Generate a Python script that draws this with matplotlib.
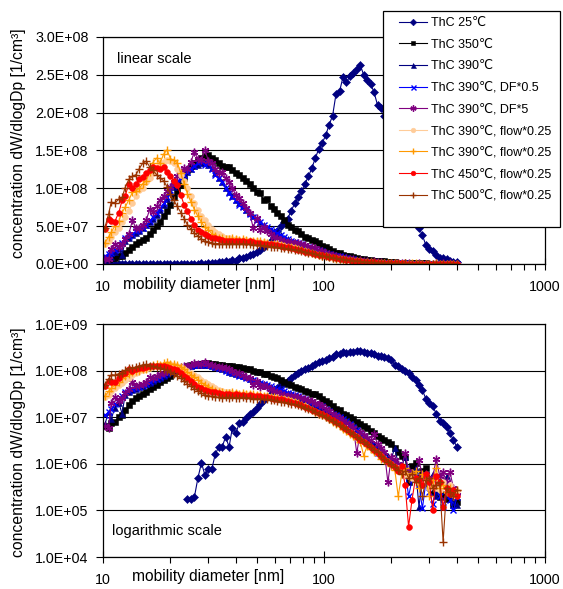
import numpy as np
import matplotlib
matplotlib.use('Agg')
import matplotlib.pyplot as plt
import matplotlib.ticker as ticker
from matplotlib.patches import Rectangle

plt.rcParams['font.family'] = ['Liberation Sans', 'DejaVu Sans']
plt.rcParams['font.size'] = 10

# SMPS bin midpoints, mobility diameter [nm]
diameter = [
    10.2, 10.6, 10.9, 11.3, 11.8, 12.2, 12.6, 13.1, 13.6, 14.1,
    14.6, 15.1, 15.7, 16.3, 16.8, 17.5, 18.1, 18.8, 19.5, 20.2,
    20.9, 21.7, 22.5, 23.3, 24.1, 25.0, 25.9, 26.9, 27.9, 28.9,
    30.0, 31.1, 32.2, 33.4, 34.6, 35.9, 37.2, 38.5, 40.0, 41.4,
    42.9, 44.5, 46.1, 47.8, 49.6, 51.4, 53.3, 55.2, 57.3, 59.4,
    61.5, 63.8, 66.1, 68.5, 71.0, 73.7, 76.4, 79.1, 82.0, 85.1,
    88.2, 91.4, 94.7, 98.2, 101.8, 105.5, 109.4, 113.4, 117.6, 121.9,
    126.3, 131.0, 135.8, 140.7, 145.9, 151.2, 156.8, 162.5, 168.5, 174.7,
    181.1, 187.7, 194.6, 201.7, 209.1, 216.7, 224.7, 232.9, 241.4, 250.3,
    259.5, 269.0, 278.8, 289.0, 299.6, 310.6, 322.0, 333.8, 346.0, 358.7,
    371.8, 385.4, 399.5,
]

# dW/dlogDp in units of 1e6 per cm3
thc_25 = [
    0, 0, 0, 0, 0, 0, 0, 0, 0, 0,
    0, 0, 0, 0, 0, 0, 0, 0, 0, 0,
    0, 0, 0, 0, 0.18, 0.18, 0.19, 0.5, 1.05, 0.58,
    0.78, 0.78, 1.6, 2.3, 2.3, 3.8, 2.3, 5.9, 4.6, 7.6,
    8, 9.5, 11.5, 13, 16, 19, 23, 27, 31, 36,
    43, 50, 55, 60, 70, 80, 88, 96, 106, 116,
    127, 140, 152, 160, 170, 184, 196, 225, 228, 247,
    240, 248, 253, 258, 263, 250, 243, 238, 227, 210,
    206, 196, 185, 165, 135, 125, 110, 100, 88, 72,
    62, 48, 38, 25, 20, 17, 12, 8.5, 7.5, 6.2,
    4.6, 3.2, 2.3,
]

thc_350 = [
    6.5, 6.0, 7.5, 8, 10, 11, 14, 18, 22, 26,
    29, 32, 35, 40, 45, 50, 56, 63, 70, 78,
    88, 97, 105, 114, 124, 130, 133, 137, 140, 143,
    144, 140, 138, 134, 130, 128, 128, 124, 120, 117,
    113, 110, 106, 100, 95, 94, 84, 86, 77, 73,
    68, 63, 58, 52, 49, 45, 43, 40, 36, 34,
    32, 31, 28, 24, 22, 20, 17, 15, 14, 12,
    11, 10, 9.2, 8, 7.2, 6.5, 5.8, 5.0, 4.6, 4.0,
    3.6, 3.3, 3.0, 2.6, 2.2, 1.8, 1.5, 1.4, 0.4, 0.9,
    1.05, 0.5, 0.7, 0.8, 0.35, 0.25, 0.25, 0.19, 0.22, 0.18,
    0.2, 0.13, 0.15,
]

thc_390 = [
    7, 13, 9, 16, 20, 12, 30, 34, 38, 41,
    44, 47, 51, 55, 60, 65, 71, 78, 86, 95,
    102, 107, 112, 117, 121, 125, 129, 131, 133, 134,
    131, 127, 120, 114, 108, 101, 95, 90, 85, 80,
    76, 72, 67, 63, 59, 55, 51, 48, 45, 43,
    40, 38, 35, 33, 31, 29, 27, 25, 23, 21.5,
    20, 18.5, 17, 15.5, 14, 13, 12, 11, 10, 9.2,
    8.2, 7.3, 6.4, 5.6, 4.9, 4.2, 3.6, 3.0, 2.6, 2.4,
    2.0, 1.8, 1.5, 1.3, 2.2, 1.0, 0.9, 1.4, 0.6, 0.5,
    0.8, 0.12, 0.5, 0.4, 0.45, 0.6, 0.2, 0.45, 0.4, 0.55,
    0.2, 0.15, 0.13,
]

thc_390_df05 = [
    11, 13, 15, 19, 23, 28, 34, 37, 40, 43,
    45, 48, 52, 57, 62, 67, 74, 80, 89, 98,
    104, 109, 113, 118, 122, 126, 130, 133, 136, 131,
    134, 125, 117, 113, 108, 100, 94, 89, 84, 78,
    75, 71, 66, 62, 58, 55, 51, 49, 46, 43,
    41, 38, 36, 33, 31, 29.5, 28, 26, 24, 22,
    21, 19.5, 18.5, 17, 15, 13.5, 12, 11, 10, 9.2,
    8.2, 7.2, 6.2, 5.2, 4.2, 3.6, 3.0, 2.5, 2.1, 1.7,
    1.5, 1.3, 1.2, 1.1, 1.0, 0.95, 0.7, 0.8, 0.2, 0.45,
    0.55, 0.35, 0.11, 0.4, 0.25, 0.14, 0.3, 0.2, 0.12, 0.22,
    0.17, 0.1, 0.19,
]

thc_390_df5 = [
    6.5, 6.0, 20, 27, 22, 26, 33, 40, 58, 47,
    48, 52, 58, 73, 69, 76, 84, 90, 97, 102,
    108, 116, 121, 127, 126, 135, 148, 139, 137, 151,
    136, 133, 126, 120, 121, 114, 109, 100, 91, 87,
    80, 74, 68, 48, 61, 45, 49, 44, 40, 36,
    34, 32, 30, 29, 28.5, 28, 27.5, 26, 25, 23,
    22, 20.5, 19, 17, 15, 13.5, 12, 10.5, 9.5, 8.5,
    7.6, 6.8, 6.0, 1.7, 4.8, 4.2, 3.6, 3.2, 4.4, 2.6,
    2.2, 1.8, 0.4, 1.4, 1.2, 1.0, 0.8, 1.7, 0.7, 0.6,
    0.5, 1.2, 0.55, 0.6, 0.45, 0.5, 1.3, 0.55, 0.66, 0.4,
    0.66, 0.3, 0.25,
]

thc_390_flow_a = [
    27, 30, 36, 42, 48, 55, 62, 70, 80, 90,
    98, 101, 108, 114, 120, 127, 133, 135, 137, 136,
    133, 126, 118, 110, 100, 90, 80, 72, 64, 58,
    52, 46, 42, 39, 37, 35, 34, 33, 33, 32,
    32, 32, 31, 30, 30, 29, 29, 28, 27, 26,
    26, 25, 24, 23, 22, 21, 19.5, 18, 17, 15.5,
    14.5, 13, 12, 11, 10, 9.2, 8.3, 7.5, 6.7, 6.0,
    5.3, 4.7, 4.2, 3.7, 3.3, 2.9, 2.5, 2.2, 1.9, 1.7,
    1.5, 1.3, 1.1, 1.0, 0.85, 0.8, 0.7, 0.6, 0.55, 0.5,
    0.45, 0.4, 0.35, 0.45, 0.3, 0.35, 0.3, 0.28, 0.4, 0.25,
    0.35, 0.22, 0.26,
]

thc_390_flow_b = [
    28, 36, 42, 50, 57, 68, 75, 85, 95, 97,
    100, 106, 110, 122, 134, 140, 133, 145, 151, 139,
    137, 134, 120, 106, 93, 82, 72, 63, 55, 49,
    45, 40, 37, 34, 34, 33, 33, 34, 33, 32,
    33, 32, 31, 31, 30, 30, 29, 28, 27, 27,
    26, 25, 24, 23, 22, 21, 20, 18.5, 17, 15.5,
    14, 13, 12, 11, 10, 9, 8, 7.2, 6.4, 5.7,
    5.0, 4.4, 3.9, 3.4, 3.0, 1.5, 2.4, 2.1, 1.8, 1.6,
    1.3, 1.2, 1.1, 0.9, 0.75, 0.2, 0.6, 0.8, 0.5, 0.65,
    0.7, 0.3, 0.6, 0.5, 0.2, 0.45, 0.8, 0.3, 0.35, 0.25,
    0.3, 0.2, 0.28,
]

thc_450 = [
    46, 60, 57, 56, 68, 84, 90, 106, 100, 106,
    112, 115, 120, 124, 128, 127, 126, 128, 121, 116,
    110, 104, 91, 78, 70, 60, 52, 45, 42, 39,
    37, 35, 34, 33, 32, 31, 31, 30, 31, 30,
    30, 29, 30, 29, 28, 28, 27, 27, 26, 25,
    25, 24, 23, 22, 21, 20, 19, 18, 16.5, 15.5,
    14.5, 13.5, 12.5, 11.5, 10.5, 9.5, 8.6, 7.8, 7.0, 6.2,
    5.5, 4.9, 4.3, 3.8, 3.3, 2.9, 2.6, 2.3, 2.0, 1.7,
    1.5, 1.3, 1.1, 1.0, 0.85, 0.7, 0.9, 0.35, 0.045, 0.17,
    0.5, 0.45, 0.35, 0.6, 0.4, 0.1, 0.55, 0.4, 0.12, 0.3,
    0.22, 0.27, 0.2,
]

thc_500 = [
    48, 66, 82, 80, 86, 88, 101, 112, 116, 118,
    126, 133, 136, 128, 124, 118, 114, 110, 102, 92,
    84, 76, 68, 60, 52, 46, 41, 37, 33, 30,
    29, 28, 27, 27, 26, 27, 26, 27, 26, 26,
    27, 26, 26, 25, 25, 25, 24, 24, 23, 23,
    22, 21, 21, 20, 19.5, 19, 18, 17, 16, 15,
    14, 13, 12, 11, 10, 9.2, 8.4, 7.6, 6.8, 6.1,
    5.5, 4.9, 4.3, 3.8, 3.4, 3.0, 2.6, 2.3, 2.0, 1.8,
    1.5, 1.3, 1.1, 1.0, 0.85, 0.75, 0.6, 0.7, 0.5, 0.6,
    0.4, 0.5, 0.2, 0.45, 0.5, 0.3, 0.35, 0.4, 0.021, 0.3,
    0.25, 0.2, 0.28,
]

labels = [
    'ThC 25℃', 'ThC 350℃', 'ThC 390℃', 'ThC 390℃, DF*0.5', 'ThC 390℃, DF*5',
    'ThC 390℃, flow*0.25', 'ThC 390℃, flow*0.25', 'ThC 450℃, flow*0.25',
    'ThC 500℃, flow*0.25',
]
values = [thc_25, thc_350, thc_390, thc_390_df05, thc_390_df5,
          thc_390_flow_a, thc_390_flow_b, thc_450, thc_500]
colors = ['#000080', '#000000', '#000080', '#0000ff', '#800080',
          '#ffcc99', '#ff9900', '#ff0000', '#993300']
markers = ['D', 's', '^', 'x', (6, 2, 0), 'o', '+', 'o', '+']
sizes = [4.2, 4.0, 4.5, 4.5, 5.5, 4.2, 5.5, 4.2, 5.5]

fig = plt.figure(figsize=(5.63, 5.89), dpi=100)
ax_lin = fig.add_axes([0.1829, 0.5518, 0.7851, 0.3854])
ax_log = fig.add_axes([0.1829, 0.0543, 0.7851, 0.3956])

handles = []
for lab, v, c, m, ms in zip(labels, values, colors, markers, sizes):
    y = np.array(v, dtype=float) * 1e6
    kw = dict(color=c, marker=m, markersize=ms, linewidth=0.8,
              markeredgewidth=1.0 if m in ('x', '+', (6, 2, 0)) else 0.4,
              markeredgecolor=c, markerfacecolor=c)
    h, = ax_lin.plot(diameter, y, label=lab, **kw)
    ax_log.plot(diameter, np.where(y > 0, y, np.nan), **kw)
    handles.append(h)

sci = ticker.FuncFormatter(lambda v, p: f'{v:.1E}')

for ax in (ax_lin, ax_log):
    ax.set_xscale('log')
    ax.set_xlim(10, 1000)
    ax.xaxis.set_major_locator(ticker.FixedLocator([10, 100, 1000]))
    ax.xaxis.set_major_formatter(ticker.FuncFormatter(lambda v, p: f'{v:g}'))
    ax.xaxis.set_minor_locator(ticker.LogLocator(base=10, subs=np.arange(2, 10)))
    ax.xaxis.set_minor_formatter(ticker.NullFormatter())
    ax.tick_params(axis='x', which='major', direction='inout', length=8,
                   width=0.8, pad=7.5, labelsize=10.3)
    ax.tick_params(axis='x', which='minor', direction='out', length=4, width=0.8)
    ax.tick_params(axis='y', which='major', direction='out', length=5,
                   width=0.8, pad=5.5, labelsize=10.3)
    ax.yaxis.grid(True, color='black', linewidth=0.8)
    ax.set_axisbelow(True)
    for s in ax.spines.values():
        s.set_color('black')
        s.set_linewidth(0.9)

ax_lin.set_ylim(0, 3e8)
ax_lin.set_yticks(np.arange(0, 3.01e8, 5e7))
ax_lin.yaxis.set_major_formatter(sci)

ax_log.set_yscale('log')
ax_log.set_ylim(1e4, 1e9)
ax_log.yaxis.set_major_locator(ticker.FixedLocator([1e4, 1e5, 1e6, 1e7, 1e8, 1e9]))
ax_log.yaxis.set_minor_locator(ticker.NullLocator())
ax_log.yaxis.set_major_formatter(sci)

W, H = 563, 589
ylab = 'concentration dW/dlogDp [1/cm³]'
fig.text(19 / W, 1 - 143 / H, ylab, rotation=90, ha='center', va='center', fontsize=11.3)
fig.text(19 / W, 1 - 442 / H, ylab, rotation=90, ha='center', va='center', fontsize=11.3)
fig.text(123 / W, 1 - 284 / H, 'mobility diameter [nm]', ha='left', va='center', fontsize=11.2)
fig.text(132 / W, 1 - 577 / H, 'mobility diameter [nm]', ha='left', va='center', fontsize=11.2)
fig.text(117 / W, 1 - 59 / H, 'linear scale', ha='left', va='center', fontsize=10.5)
fig.text(112 / W, 1 - 531 / H, 'logarithmic scale', ha='left', va='center', fontsize=10.5)

# legend box overlapping the top panel
fig.add_artist(Rectangle((383 / W, 1 - 227 / H), 177 / W, 216 / H,
                         transform=fig.transFigure, facecolor='white',
                         edgecolor='black', linewidth=0.9, zorder=3))
fig.legend(handles, labels, loc='upper left', bbox_to_anchor=(399 / W, 1 - 17 / H),
           frameon=False, fontsize=9, handlelength=2.24, handletextpad=0.32,
           labelspacing=0.77, borderpad=0, borderaxespad=0, markerscale=0.8)

fig.savefig('out.png', dpi=100)
